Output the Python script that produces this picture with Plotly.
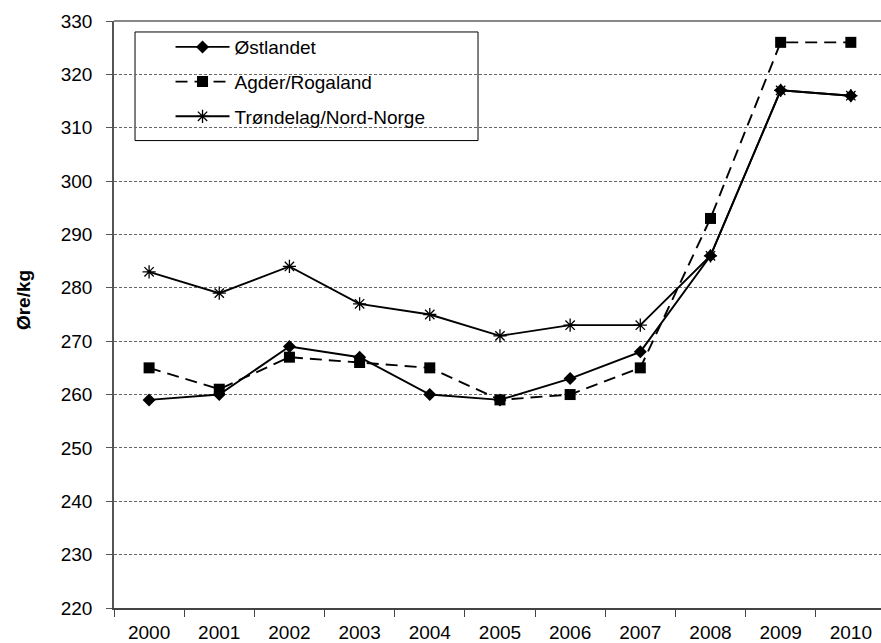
import plotly.graph_objects as go

years = ["2000", "2001", "2002", "2003", "2004", "2005", "2006", "2007", "2008", "2009", "2010"]
ostlandet = [259, 260, 269, 267, 260, 259, 263, 268, 286, 317, 316]
agder = [265, 261, 267, 266, 265, 259, 260, 265, 293, 326, 326]
trondelag = [283, 279, 284, 277, 275, 271, 273, 273, 286, 317, 316]
y_ticks = [220, 230, 240, 250, 260, 270, 280, 290, 300, 310, 320, 330]

FONT = "Liberation Sans, Arial, sans-serif"

fig = go.Figure()
fig.add_trace(go.Scatter(
    x=years, y=ostlandet, name="Østlandet", mode="lines+markers", legendgroup="a",
    line=dict(color="black", width=1.9),
    marker=dict(symbol="diamond", size=10, color="black"),
))
fig.add_trace(go.Scatter(
    x=years, y=agder, name="Agder/Rogaland", mode="lines+markers", legendgroup="b",
    line=dict(color="black", width=1.9, dash="12px,7px"),
    marker=dict(symbol="square", size=11, color="black"),
))
fig.add_trace(go.Scatter(
    x=years, y=trondelag, name="Trøndelag/Nord-Norge", mode="lines+markers", legendgroup="c",
    line=dict(color="black", width=1.9),
    marker=dict(symbol="asterisk-open", size=11, color="black", line=dict(color="black", width=1.3)),
))

fig.update_layout(
    width=881, height=643,
    margin=dict(l=114, r=0, t=21, b=33),
    paper_bgcolor="white", plot_bgcolor="white",
    font=dict(family=FONT, size=19, color="black"),
    showlegend=True,
    legend=dict(
        x=0.0737, y=0.988, xanchor="left", yanchor="top",
        bgcolor="rgba(0,0,0,0)", borderwidth=0,
        font=dict(family=FONT, size=19, color="black"),
        tracegroupgap=7, itemwidth=54,
    ),
    shapes=[dict(
        type="rect", xref="paper", yref="paper",
        x0=0.0274, x1=0.4746, y0=0.7963, y1=0.9813,
        line=dict(color="black", width=1), fillcolor="white", layer="below",
    )],
    annotations=[dict(
        text="<b>Øre/kg</b>", xref="paper", yref="paper",
        x=-0.117, y=0.525, xanchor="center", yanchor="middle",
        textangle=-90, showarrow=False,
        font=dict(family=FONT, size=19, color="black"),
    )],
)

fig.update_xaxes(
    type="category", range=[-0.5, 10.43],
    tickson="boundaries", ticks="outside", ticklen=7, tickcolor="#444",
    showline=True, linecolor="#444", linewidth=1.5, mirror=False,
    showgrid=False, ticklabelstandoff=6,
    tickfont=dict(family=FONT, size=19, color="black"),
)
fig.update_yaxes(
    range=[220, 330], tickvals=y_ticks,
    ticks="outside", ticklen=6, tickcolor="#555",
    showline=True, linecolor="#555", linewidth=1.5,
    showgrid=True, gridcolor="#666", gridwidth=1, griddash="3px,2px",
    zeroline=False, ticklabelstandoff=10,
    tickfont=dict(family=FONT, size=19, color="black"),
)
# top border of plot area
fig.add_shape(type="line", xref="paper", yref="paper", x0=0, x1=1, y0=1, y1=1,
              line=dict(color="#888", width=2))

fig.write_html(
    "out.html",
    config={"displayModeBar": False},
    post_script="document.body.style.margin='0';document.body.style.overflow='hidden';",
)
